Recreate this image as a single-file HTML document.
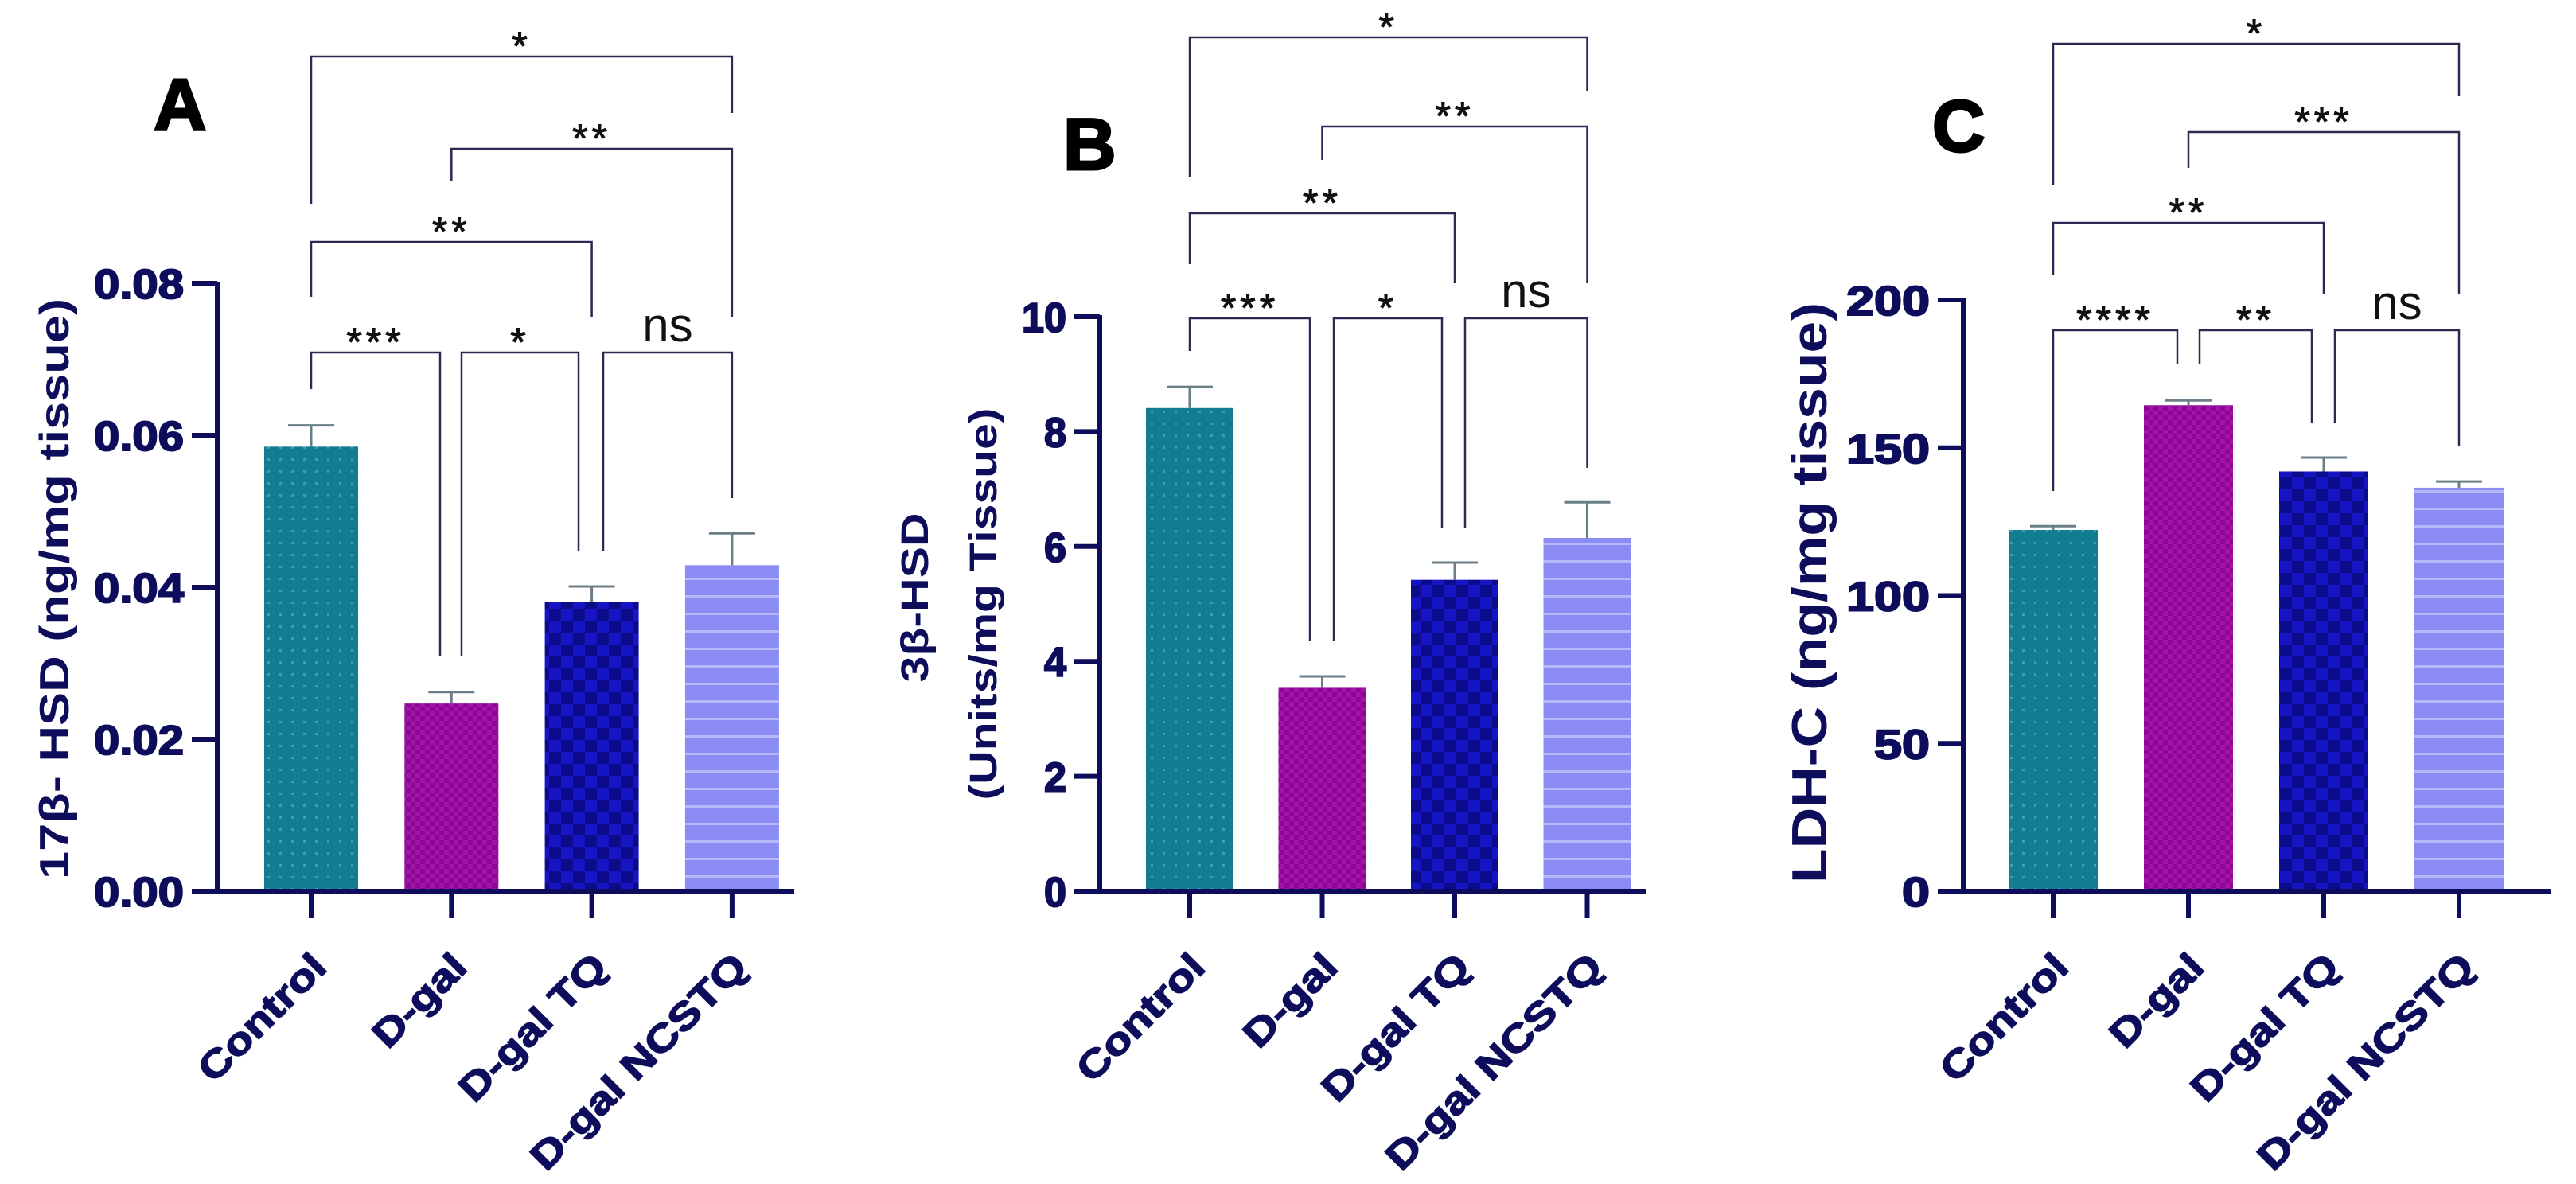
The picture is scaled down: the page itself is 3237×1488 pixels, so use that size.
<!DOCTYPE html>
<html><head><meta charset="utf-8"><style>
html,body{margin:0;padding:0;background:#fff;}
svg{display:block;}
text{font-family:"Liberation Sans",Arial,sans-serif;}
</style></head><body>
<svg id="fig" width="3237" height="1488" viewBox="0 0 3237 1488" xmlns="http://www.w3.org/2000/svg">
<defs>
<pattern id="pDots" width="15" height="15" patternUnits="userSpaceOnUse"><rect width="15" height="15" fill="#127d91"/><rect x="6" y="6" width="3" height="3" fill="#3f9fb0"/></pattern>
<pattern id="pMag" width="12" height="12" patternUnits="userSpaceOnUse"><rect width="12" height="12" fill="#a312aa"/><rect width="6" height="6" fill="#8a0890"/><rect x="6" y="6" width="6" height="6" fill="#8a0890"/></pattern>
<pattern id="pNavy" width="30" height="30" patternUnits="userSpaceOnUse"><rect width="30" height="30" fill="#0b0b8c"/><rect width="15" height="15" fill="#1515c4"/><rect x="15" y="15" width="15" height="15" fill="#1515c4"/></pattern>
<pattern id="pLav" width="22" height="22" patternUnits="userSpaceOnUse"><rect width="22" height="22" fill="#8b8cf3"/><rect y="0" width="22" height="3" fill="#b4b8fa"/></pattern>
</defs>
</svg>
<script>
const NS='http://www.w3.org/2000/svg';
const svg=document.getElementById('fig');
const categories=['Control','D-gal','D-gal TQ','D-gal NCSTQ'];
const fills=['url(#pDots)','url(#pMag)','url(#pNavy)','url(#pLav)'];
// Panel A data
const valuesA=[0.0585,0.0247,0.0381,0.0429];
const errorsA=[0.0028,0.0015,0.0020,0.0042];
const ticksA=[0,0.02,0.04,0.06,0.08];
const tickLabelsA=['0.00','0.02','0.04','0.06','0.08'];
// Panel B data
const valuesB=[8.41,3.54,5.42,6.15];
const errorsB=[0.37,0.20,0.30,0.62];
const ticksB=[0,2,4,6,8,10];
const tickLabelsB=['0','2','4','6','8','10'];
// Panel C data
const valuesC=[122.2,164.4,142.0,136.5];
const errorsC=[1.3,1.6,4.7,2.1];
const ticksC=[0,50,100,150,200];
const tickLabelsC=['0','50','100','150','200'];
// Significance labels [i, j, label]
const sigA=[[0,3,'*'],[1,3,'**'],[0,2,'**'],[0,1,'***'],[1,2,'*'],[2,3,'ns']];
const sigB=[[0,3,'*'],[1,3,'**'],[0,2,'**'],[0,1,'***'],[1,2,'*'],[2,3,'ns']];
const sigC=[[0,3,'*'],[1,3,'***'],[0,2,'**'],[0,1,'****'],[1,2,'**'],[2,3,'ns']];

function el(tag,attrs,parent){const e=document.createElementNS(NS,tag);for(const k in attrs)e.setAttribute(k,attrs[k]);(parent||svg).appendChild(e);return e;}
const AX='#0d0d5c';

function panel(P){
  const g=el('g',{});
  
  
  const y=v=>P.y0-(v-P.ymin)/(P.ymax-P.ymin)*(P.y0-P.yTop);
  const x=i=>P.c0+i*P.step;
  P.values.forEach((v,i)=>{
    const r=el('rect',{x:x(i)-P.bw/2,y:y(v),width:P.bw,height:P.y0-y(v),fill:fills[i]},g);
    
    
    const top=y(v+P.errors[i]);
    const e=el('path',{d:`M${x(i)} ${y(v)}V${top}M${x(i)-29} ${top}H${x(i)+29}`,stroke:'#6a7e88','stroke-width':3,fill:'none'},g);
    
    
  });
  const ya=el('line',{x1:P.ax,y1:P.yTop-2,x2:P.ax,y2:P.y0+3,stroke:AX,'stroke-width':6},g);
  
  
  const xa=el('line',{x1:P.ax-3,y1:P.y0,x2:P.xEnd,y2:P.y0,stroke:AX,'stroke-width':6},g);
  
  
  P.ticks.forEach((t,k)=>{
    el('line',{x1:P.ax-32,y1:y(t),x2:P.ax,y2:y(t),stroke:AX,'stroke-width':6},g);
    const tl=el('text',{x:P.ax-42,y:y(t)+19,'text-anchor':'end','font-size':52,'font-weight':'bold',fill:AX,stroke:AX,'stroke-width':2,textLength:P.tickW(P.tickLabels[k]),lengthAdjust:'spacingAndGlyphs'},g);
    tl.textContent=P.tickLabels[k];
    
    
  });
  categories.forEach((c,i)=>{
    el('line',{x1:x(i),y1:P.y0,x2:x(i),y2:P.y0+34,stroke:AX,'stroke-width':6},g);
    const ax=x(i)+22, ay=P.y0+98;
    const t=el('text',{x:0,y:0,'text-anchor':'end','font-size':48,'font-weight':'bold',fill:AX,stroke:AX,'stroke-width':1.5,transform:`translate(${ax},${ay}) rotate(-45) scale(1.2,1)`},g);
    t.textContent=c;
    
    
  });
  P.ytitle.forEach(tt=>{
    const t=el('text',{x:0,y:0,'text-anchor':'middle','font-size':tt.fs,'font-weight':'bold',fill:AX,textLength:tt.len,lengthAdjust:'spacingAndGlyphs',transform:`translate(${tt.x},${tt.y}) rotate(-90)`},g);
    t.textContent=tt.text;
    
    
  });
  const L=el('text',{x:P.lx,y:P.ly,'font-size':92,'font-weight':'bold',fill:'#000',stroke:'#000','stroke-width':3},g);
  L.textContent=P.id;
  
  
  P.sig.forEach((s,k)=>{
    const b=P.br[k];
    const xl=b.xl!==undefined?b.xl:x(s[0]), xr=b.xr!==undefined?b.xr:x(s[1]);
    const p=el('path',{d:`M${xl} ${b.l}V${b.y}H${xr}V${b.r}`,stroke:'#2a2a55','stroke-width':2.5,fill:'none'},g);
    
    
    const ns=s[2]==='ns';
    const t=el('text',{x:(xl+xr)/2,y:ns?b.y-14:b.y+4,'text-anchor':'middle','font-size':ns?60:50,fill:'#111','letter-spacing':ns?0:5,stroke:ns?'none':'#111','stroke-width':1},g);
    t.textContent=s[2];
    
    
  });
}
const dig=(s,w,p)=>s.replace(/\./g,'').length*w+(s.includes('.')?p:0);

panel({id:'A',values:valuesA,errors:errorsA,ticks:ticksA,tickLabels:tickLabelsA,ymin:0,ymax:0.08,
  y0:1120,yTop:356,ax:273,xEnd:998,c0:391,step:176.3,bw:118,tickW:s=>dig(s,33,14),
  ytitle:[{text:'17β- HSD (ng/mg tissue)',x:86,y:740,fs:52,len:730}],lx:193,ly:163,sig:sigA,
  br:[{y:71,l:256,r:142},{y:187,l:228,r:398},{y:304,l:373,r:398},
      {y:443,l:489,r:825,xr:553},{y:443,l:825,r:693,xl:580,xr:727},{y:443,l:693,r:626,xl:758}]});
panel({id:'B',values:valuesB,errors:errorsB,ticks:ticksB,tickLabels:tickLabelsB,ymin:0,ymax:10,
  y0:1120,yTop:398,ax:1382,xEnd:2068,c0:1495,step:166.5,bw:110,tickW:s=>s.length*28,
  ytitle:[{text:'3β-HSD',x:1166,y:751,fs:48,len:213},{text:'(Units/mg Tissue)',x:1252,y:759,fs:48,len:493}],lx:1336,ly:213,sig:sigB,
  br:[{y:47,l:223,r:114},{y:159,l:201,r:356},{y:268,l:332,r:356},
      {y:400,l:441,r:806,xr:1646},{y:400,l:806,r:664,xl:1676,xr:1812},{y:400,l:664,r:588,xl:1841}]});
panel({id:'C',values:valuesC,errors:errorsC,ticks:ticksC,tickLabels:tickLabelsC,ymin:0,ymax:200,
  y0:1120,yTop:377,ax:2467,xEnd:3206,c0:2580,step:170,bw:112,tickW:s=>s.length*35,
  ytitle:[{text:'LDH-C (ng/mg tissue)',x:2295,y:745,fs:62,len:730}],lx:2428,ly:190,sig:sigC,
  br:[{y:55,l:232,r:121},{y:166,l:211,r:370},{y:280,l:346,r:370},
      {y:415,l:617,r:457,xr:2736},{y:415,l:457,r:531,xl:2764,xr:2905},{y:415,l:531,r:560,xl:2934}]});
</script>
</body></html>
